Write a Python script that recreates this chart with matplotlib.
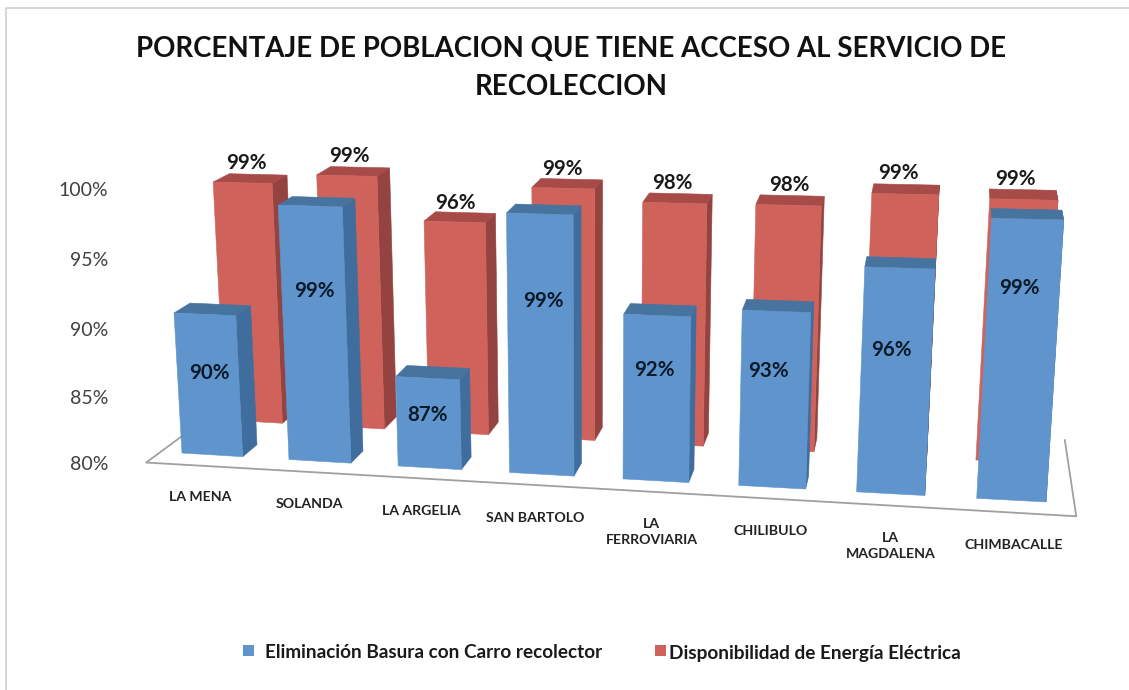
import matplotlib
matplotlib.use("Agg")
import matplotlib.pyplot as plt
from matplotlib.patches import Polygon, Rectangle

# datos
barrios = ["LA MENA", "SOLANDA", "LA ARGELIA", "SAN BARTOLO", "LA\nFERROVIARIA",
           "CHILIBULO", "LA\nMAGDALENA", "CHIMBACALLE"]
basura = [90.45, 98.75, 86.5, 98.65, 91.7, 92.3, 95.6, 99.2]
energia = [98.5, 99.25, 95.95, 98.7, 97.8, 97.85, 98.85, 98.65]
etiquetas_basura = ["90%", "99%", "87%", "99%", "92%", "93%", "96%", "99%"]
etiquetas_energia = ["99%", "99%", "96%", "99%", "98%", "98%", "99%", "99%"]
ticks_y = [80, 85, 90, 95, 100]
nombre_basura = "Eliminación Basura con Carro recolector"
nombre_energia = "Disponibilidad de Energía Eléctrica"
titulo = "PORCENTAJE DE POBLACION QUE TIENE ACCESO AL SERVICIO DE\nRECOLECCION"

# posiciones de textos en pixeles
pos_basura = [(209, 373), (314, 291), (427, 415), (543, 301), (654, 370), (768, 371), (891, 350), (1019, 288)]
pos_energia = [(246, 163), (349, 156), (455, 203), (562, 169), (672, 183), (789, 185), (898, 173), (1015, 179)]
pos_ticks = [465, 398, 331, 261, 191]

plt.rcParams["font.family"] = ["Lato", "DejaVu Sans"]

AZUL = ("#5F95CC", "#3F6D9E", "#47739F")
ROJO = ("#CF635C", "#944340", "#A64B47")
ANCHO = 0.57   # ancho de barra en unidades de categoria
FONDO = 0.36   # profundidad de barra


def proyectar(u, z, valor):
    # perspectiva: u = categoria, z = profundidad, valor = porcentaje
    xb = 182 + 105.9 * u + 1.09 * u ** 2 + z * (43.3 - 6.3 * u)
    yb = 453 + 6.47 * u - z * (33 + 0.75 * u)
    escala = (13.4 + 0.17 * u) * (1 - 0.04 * z)
    h = (valor - 80) * escala
    x = xb + (xb - 594) * h / 7235
    return x, yb - h


def barra(ax, i, z, valor, colores):
    frente, lado, tapa = colores
    a = proyectar(i, z, 80)
    b = proyectar(i + ANCHO, z, 80)
    c = proyectar(i + ANCHO, z, valor)
    d = proyectar(i, z, valor)
    e = proyectar(i + ANCHO, z + FONDO, 80)
    f = proyectar(i + ANCHO, z + FONDO, valor)
    g = proyectar(i, z + FONDO, valor)
    ax.add_patch(Polygon([b, e, f, c], facecolor=lado, edgecolor=lado, linewidth=0.4))
    ax.add_patch(Polygon([d, c, f, g], facecolor=tapa, edgecolor=tapa, linewidth=0.4))
    ax.add_patch(Polygon([a, b, c, d], facecolor=frente, edgecolor=frente, linewidth=0.4))


fig = plt.figure(figsize=(11.29, 6.90), dpi=100)
ax = fig.add_axes([0, 0, 1, 1])
ax.set_xlim(0, 1129)
ax.set_ylim(690, 0)
ax.axis("off")

# marco de la diapositiva
ax.plot([5.5, 5.5, 1129], [690, 8, 8], color="#CFCFCF", linewidth=1.2, zorder=0.5)

# piso del grafico, queda detras de las barras
u_izq, u_der, z_del, z_atr = -0.2, 7.8, -0.33, 1.63
piso = [proyectar(u_izq, z_atr, 80), proyectar(u_izq, z_del, 80),
        proyectar(u_der, z_del, 80), proyectar(u_der, z_atr, 80)]
ax.plot([p[0] for p in piso], [p[1] for p in piso], color="#A0A0A0", linewidth=1.3, zorder=0.5)

for i, valor in enumerate(energia):
    barra(ax, i, 1, valor, ROJO)
for i, valor in enumerate(basura):
    barra(ax, i, 0, valor, AZUL)

ax.text(571, 68, titulo, ha="center", va="center", fontsize=19.9, fontweight="bold",
        color="#111111", linespacing=1.55)

for t, y in zip(ticks_y, pos_ticks):
    ax.text(108, y, f"{t}%", ha="right", va="center", fontsize=14, color="#404040")

for i, nombre in enumerate(barrios):
    x = 182 + 105.9 * (i + 0.285) + 1.09 * (i + 0.285) ** 2 - 12 + 2 * i
    ax.text(x, 491 + 6.85 * i, nombre, ha="center", va="top", fontsize=10.2, fontweight="bold",
            color="#222222", linespacing=1.35)

for texto, (x, y) in zip(etiquetas_basura, pos_basura):
    ax.text(x, y, texto, ha="center", va="center", fontsize=14.8, fontweight="bold", color="#0B1A2B")
for texto, (x, y) in zip(etiquetas_energia, pos_energia):
    ax.text(x, y, texto, ha="center", va="center", fontsize=14.8, fontweight="bold", color="#1A1A1A")

# leyenda
ax.add_patch(Rectangle((243, 645), 11, 11, facecolor=AZUL[0], edgecolor="none"))
ax.text(265, 653, nombre_basura, ha="left", va="center", fontsize=13.6, fontweight="bold", color="#1A1A1A")
ax.add_patch(Rectangle((655, 645), 11, 11, facecolor=ROJO[0], edgecolor="none"))
ax.text(669, 653, nombre_energia, ha="left", va="center", fontsize=13.65, fontweight="bold", color="#1A1A1A")

fig.savefig("out.png", dpi=100)
